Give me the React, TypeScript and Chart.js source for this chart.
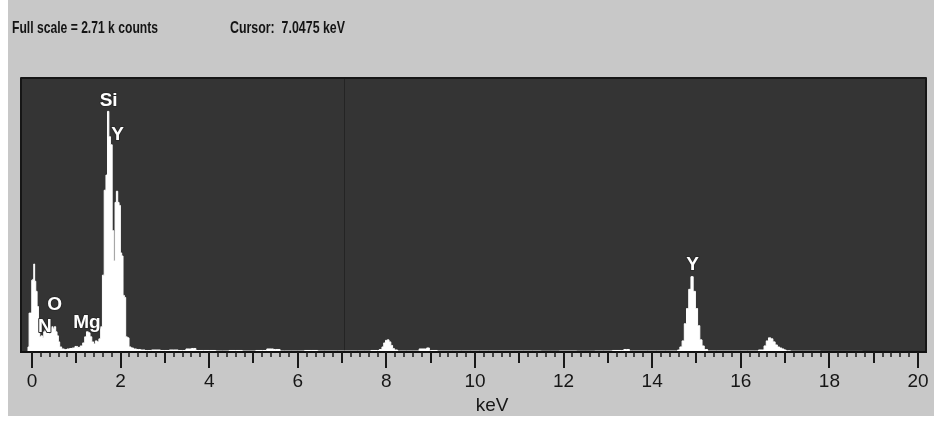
import React, { useEffect, useRef } from 'react';
import { Chart, registerables } from 'chart.js';

Chart.register(...registerables);

// ---- data ----
const fullScaleKCounts = 2.71;
const cursorKeV = 7.0475;
const tickKeV = [0, 2, 4, 6, 8, 10, 12, 14, 16, 18, 20];
const tickLabels = ['0', '2', '4', '6', '8', '10', '12', '14', '16', '18', '20'];
const minorTickStepKeV = 0.2;
const axisTitle = 'keV';

const spectrumKeV = [
  -0.25, -0.1, -0.08, -0.05, -0.02, 0.01, 0.03, 0.05, 0.07, 0.1, 0.13, 0.16, 0.19,
  0.22, 0.25, 0.28, 0.31, 0.34, 0.37, 0.4, 0.43, 0.46, 0.49, 0.52, 0.55, 0.58, 0.61,
  0.64, 0.7, 0.76, 0.82, 0.88, 0.94, 1.0, 1.06, 1.12, 1.17, 1.21, 1.25, 1.29, 1.33,
  1.37, 1.41, 1.45, 1.49, 1.53, 1.57, 1.61, 1.65, 1.69, 1.72, 1.75, 1.79, 1.83, 1.86,
  1.89, 1.92, 1.95, 1.98, 2.01, 2.04, 2.07, 2.1, 2.13, 2.17, 2.21, 2.26, 2.32, 2.4,
  2.5, 2.6, 2.8, 3.0, 3.2, 3.4, 3.55, 3.65, 3.75, 4.0, 4.3, 4.6, 4.9, 5.2, 5.4, 5.5,
  5.7, 6.0, 6.3, 6.6, 6.9, 7.2, 7.5, 7.8, 7.88, 7.92, 7.96, 8.0, 8.04, 8.08, 8.12,
  8.16, 8.2, 8.3, 8.6, 8.88, 8.94, 9.0, 9.3, 9.7, 10.1, 10.5, 10.9, 11.3, 11.7, 12.1,
  12.5, 12.9, 13.3, 13.42, 13.55, 13.9, 14.3, 14.55, 14.6, 14.65, 14.7, 14.75, 14.8,
  14.85, 14.9, 14.95, 15.0, 15.05, 15.1, 15.15, 15.2, 15.3, 15.6, 16.0, 16.3, 16.5,
  16.55, 16.6, 16.65, 16.7, 16.75, 16.8, 16.85, 16.9, 16.95, 17.0, 17.05, 17.2, 17.6,
  18.0, 18.5, 19.0, 19.5, 20.0, 20.18,
];
const spectrumCounts = [
  0, 0, 50, 385, 385, 710, 720, 870, 700, 600, 450, 300, 150,
  160, 140, 200, 220, 200, 240, 180, 240, 250, 230, 250, 200, 160, 100,
  50, 30, 25, 30, 35, 40, 55, 45, 60, 90, 150, 200, 190, 150,
  100, 80, 110, 100, 130, 250, 760, 1600, 1750, 2380, 2130, 2050, 1200, 900,
  1480, 1590, 1480, 1450, 980, 950, 560, 540, 150, 140, 50, 40, 30, 25,
  20, 15, 20, 15, 20, 15, 30, 35, 15, 15, 10, 15, 10, 15, 30, 25,
  10, 10, 15, 10, 10, 10, 10, 15, 25, 50, 90, 115, 120, 100, 65,
  35, 20, 10, 10, 30, 40, 15, 10, 10, 10, 10, 10, 10, 8, 10,
  8, 10, 15, 25, 10, 10, 10, 10, 20, 50, 110, 280, 430,
  620, 745, 600, 430, 260, 120, 60, 25, 10, 10, 10, 10, 20,
  60, 110, 140, 130, 100, 70, 50, 40, 30, 20, 12, 8, 8,
  6, 6, 5, 5, 4, 0,
];

const peakLabels = ['Si', 'Y', 'O', 'N', 'Mg', 'Y'];
const peakLabelKeV = [1.73, 1.93, 0.51, 0.29, 1.24, 14.91];
const peakLabelCounts = [2482, 2146, 465, 247, 292, 860];

// ---- drawing helpers ----
function fitText(ctx: CanvasRenderingContext2D, text: string, x: number, y: number, width: number) {
  const w = ctx.measureText(text).width;
  ctx.save();
  ctx.translate(x, y);
  ctx.scale(width / w, 1);
  ctx.fillText(text, 0, 0);
  ctx.restore();
}

const edsPlugin = {
  id: 'edsDecor',
  beforeDraw(chart: any) {
    const { ctx, chartArea: a } = chart;
    ctx.save();
    ctx.fillStyle = '#c8c8c8';
    ctx.fillRect(0, 0, chart.width, chart.height);
    ctx.fillStyle = '#343434';
    ctx.fillRect(a.left, a.top, a.right - a.left, a.bottom - a.top);
    ctx.restore();
  },
  beforeDatasetsDraw(chart: any) {
    const { ctx, chartArea: a } = chart;
    const xs = chart.scales.x;
    const cx = Math.round(xs.getPixelForValue(cursorKeV)) + 0.5;
    ctx.save();
    ctx.strokeStyle = '#242424';
    ctx.lineWidth = 1;
    ctx.beginPath();
    ctx.moveTo(cx, a.top);
    ctx.lineTo(cx, a.bottom);
    ctx.stroke();
    ctx.restore();
  },
  afterDatasetsDraw(chart: any) {
    const { ctx, chartArea: a } = chart;
    const xs = chart.scales.x;
    const ys = chart.scales.y;
    ctx.save();

    // peak labels
    ctx.font = 'bold 19px "Liberation Sans", Arial, sans-serif';
    ctx.textAlign = 'center';
    ctx.textBaseline = 'middle';
    ctx.lineJoin = 'round';
    peakLabels.forEach((t, i) => {
      const x = xs.getPixelForValue(peakLabelKeV[i]);
      const y = ys.getPixelForValue(peakLabelCounts[i]);
      ctx.strokeStyle = '#2a2a2a';
      ctx.lineWidth = 2;
      ctx.strokeText(t, x, y);
      ctx.fillStyle = '#ffffff';
      ctx.fillText(t, x, y);
    });

    // frame
    ctx.strokeStyle = '#161616';
    ctx.lineWidth = 2;
    ctx.beginPath();
    ctx.moveTo(a.left, a.bottom);
    ctx.lineTo(a.left, a.top);
    ctx.lineTo(a.right, a.top);
    ctx.lineTo(a.right, a.bottom);
    ctx.stroke();
    ctx.strokeStyle = '#111111';
    ctx.beginPath();
    ctx.moveTo(a.left - 1, a.bottom);
    ctx.lineTo(a.right + 1, a.bottom);
    ctx.stroke();

    // tick marks
    const n = Math.round(20 / minorTickStepKeV);
    for (let i = 0; i <= n; i++) {
      const e = i * minorTickStepKeV;
      const x = Math.round(xs.getPixelForValue(e));
      const isEven = i % 10 === 0;
      const isOdd = i % 5 === 0 && !isEven;
      const len = isEven ? 16 : isOdd ? 11 : 5;
      ctx.lineWidth = isEven || isOdd ? 2 : 1.5;
      ctx.strokeStyle = '#1a1a1a';
      ctx.beginPath();
      ctx.moveTo(x, a.bottom);
      ctx.lineTo(x, a.bottom + len);
      ctx.stroke();
    }

    // axis title
    ctx.fillStyle = '#161616';
    ctx.font = '19px "Liberation Sans", Arial, sans-serif';
    ctx.textAlign = 'center';
    ctx.textBaseline = 'alphabetic';
    ctx.fillText(axisTitle, 484, 411);

    // header texts
    ctx.font = 'bold 17px "Liberation Sans", Arial, sans-serif';
    ctx.textAlign = 'left';
    ctx.fillStyle = '#141414';
    fitText(ctx, `Full scale = ${fullScaleKCounts.toFixed(2)} k counts`, 4, 33, 146);
    fitText(ctx, `Cursor:  ${cursorKeV.toFixed(4)} keV`, 222, 33, 115);

    ctx.restore();
  },
};

export default function App() {
  const ref = useRef<HTMLCanvasElement | null>(null);

  useEffect(() => {
    if (!ref.current) return;
    const chart = new Chart(ref.current, {
      type: 'line',
      data: {
        datasets: [
          {
            data: spectrumKeV.map((x, i) => ({ x, y: spectrumCounts[i] })),
            stepped: 'middle',
            fill: 'origin',
            backgroundColor: '#ffffff',
            borderColor: '#ffffff',
            borderWidth: 1,
            pointRadius: 0,
            tension: 0,
          } as any,
        ],
      },
      options: {
        animation: false,
        responsive: false,
        layout: { padding: { left: 13, right: 8, top: 78, bottom: 0 } },
        plugins: {
          legend: { display: false },
          tooltip: { enabled: false },
          title: { display: false },
        },
        scales: {
          x: {
            type: 'linear',
            min: -0.248,
            max: 20.181,
            grid: { display: false },
            border: { display: false },
            afterBuildTicks: (s: any) => {
              s.ticks = tickKeV.map((v) => ({ value: v }));
            },
            afterFit: (s: any) => {
              s.height = 64;
              s.paddingLeft = 0;
              s.paddingRight = 0;
            },
            ticks: {
              autoSkip: false,
              maxRotation: 0,
              padding: 10,
              color: '#161616',
              font: { family: '"Liberation Sans", Arial, sans-serif', size: 19 },
              callback: (_v: any, i: number) => tickLabels[i] ?? '',
            },
          },
          y: { display: false, min: 0, max: fullScaleKCounts * 1000 },
        },
      },
      plugins: [edsPlugin],
    });
    return () => chart.destroy();
  }, []);

  return (
    <div
      style={{
        position: 'absolute',
        left: 8,
        top: 0,
        width: 926,
        height: 416,
        background: '#c8c8c8',
      }}
    >
      <canvas ref={ref} width={926} height={416} style={{ display: 'block' }} />
    </div>
  );
}
